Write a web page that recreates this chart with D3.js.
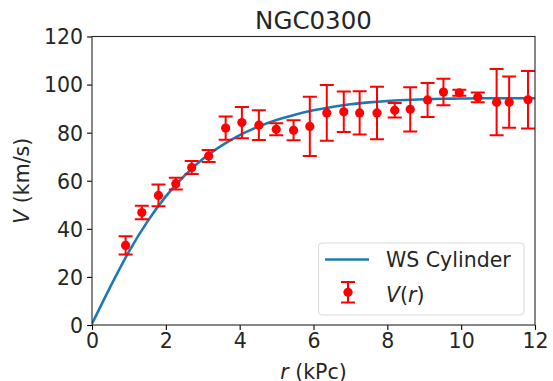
<!DOCTYPE html>
<html><head><meta charset="utf-8">
<script src="https://cdn.jsdelivr.net/npm/d3@7"></script>
<style>
html,body{margin:0;padding:0;background:#fff;}
text{font-family:"DejaVu Sans",sans-serif;}
</style></head>
<body>
<svg id="chart" width="553" height="381"></svg>
<script>
// Observed data
const radius = [0.91,1.35,1.80,2.27,2.70,3.16,3.62,4.06,4.52,4.99,5.46,5.90,6.36,6.82,7.25,7.72,8.20,8.62,9.09,9.52,9.95,10.45,10.96,11.30,11.81];
const velocity = [33.1,46.8,53.9,58.8,65.5,70.3,81.9,84.2,83.1,81.4,81.0,82.6,88.2,88.7,88.2,88.2,89.3,89.7,93.6,96.9,96.6,94.7,92.7,92.7,93.7];
const velErr = [3.8,2.8,4.5,2.4,2.7,2.5,4.8,6.5,6.2,2.5,4.2,12.3,11.6,8.4,9.0,10.9,3.0,9.2,7.1,5.5,1.2,2.0,13.8,10.7,12.0];
// Model curve (WS Cylinder)
const modelR = [0,0.5,1,1.5,2,2.5,3,3.5,4,4.5,5,5.5,6,6.5,7,7.5,8,8.5,9,9.5,10,10.5,11,11.5,12];
const modelV = [0.5,16,30.5,43,53.5,62,69,74.5,79,82.5,85.3,87.5,89.3,90.7,91.8,92.6,93.2,93.6,93.9,94.1,94.2,94.3,94.3,94.3,94.3];
const xTicks = [0,2,4,6,8,10,12];
const yTicks = [0,20,40,60,80,100,120];
const title = "NGC0300";

const svg = d3.select("#chart");
const m = {left:92, right:535, top:36.5, bottom:325};
const x = d3.scaleLinear().domain([0,12]).range([m.left,m.right]);
const y = d3.scaleLinear().domain([0,120]).range([m.bottom,m.top]);
const FS = 20.5;

svg.append("defs").append("clipPath").attr("id","clip")
  .append("rect").attr("x",m.left).attr("y",m.top).attr("width",m.right-m.left).attr("height",m.bottom-m.top);

const plot = svg.append("g").attr("clip-path","url(#clip)");

// model curve
const line = d3.line().x((d,i)=>x(modelR[i])).y(d=>y(d)).curve(d3.curveMonotoneX);
plot.append("path").datum(modelV).attr("d",line)
  .attr("fill","none").attr("stroke","#1f77b4").attr("stroke-width",2.6);

// error bars
const red = "#ff0000";
const cap = 7;
const eb = plot.selectAll("g.eb").data(radius).join("g").attr("class","eb");
eb.append("line").attr("x1",(d)=>x(d)).attr("x2",(d)=>x(d))
  .attr("y1",(d,i)=>y(velocity[i]-velErr[i])).attr("y2",(d,i)=>y(velocity[i]+velErr[i]))
  .attr("stroke",red).attr("stroke-width",2);
eb.append("line").attr("x1",(d)=>x(d)-cap).attr("x2",(d)=>x(d)+cap)
  .attr("y1",(d,i)=>y(velocity[i]-velErr[i])).attr("y2",(d,i)=>y(velocity[i]-velErr[i]))
  .attr("stroke",red).attr("stroke-width",2);
eb.append("line").attr("x1",(d)=>x(d)-cap).attr("x2",(d)=>x(d)+cap)
  .attr("y1",(d,i)=>y(velocity[i]+velErr[i])).attr("y2",(d,i)=>y(velocity[i]+velErr[i]))
  .attr("stroke",red).attr("stroke-width",2);
eb.append("circle").attr("cx",(d)=>x(d)).attr("cy",(d,i)=>y(velocity[i])).attr("r",4.6).attr("fill",red);

// axes
const xAxis = d3.axisBottom(x).tickValues(xTicks).tickSize(4.9).tickPadding(4).tickFormat(d3.format("d"));
const yAxis = d3.axisLeft(y).tickValues(yTicks).tickSize(4.9).tickPadding(4).tickFormat(d3.format("d"));
const gx = svg.append("g").attr("transform",`translate(0,${m.bottom})`).call(xAxis);
const gy = svg.append("g").attr("transform",`translate(${m.left},0)`).call(yAxis);
[gx,gy].forEach(g=>{
  g.select(".domain").remove();
  g.selectAll(".tick line").attr("stroke","#000").attr("stroke-width",1.1);
  g.selectAll(".tick text").attr("font-size",FS).attr("fill","#262626").attr("font-family","DejaVu Sans");
});
gy.selectAll(".tick text").attr("dy","0.36em");

// frame
svg.append("rect").attr("x",m.left).attr("y",m.top).attr("width",m.right-m.left).attr("height",m.bottom-m.top)
  .attr("fill","none").attr("stroke","#262626").attr("stroke-width",1.1);

// title
svg.append("text").attr("x",(m.left+m.right)/2).attr("y",28.5).attr("text-anchor","middle")
  .attr("font-size",24.5).attr("fill","#262626").text(title);

// axis labels
const xl = svg.append("text").attr("x",(m.left+m.right)/2).attr("y",378.5).attr("text-anchor","middle")
  .attr("font-size",FS).attr("fill","#262626");
xl.append("tspan").attr("font-style","italic").text("r");
xl.append("tspan").text(" (kPc)");
const yl = svg.append("text").attr("transform",`translate(29,${(m.top+m.bottom)/2}) rotate(-90)`).attr("text-anchor","middle")
  .attr("font-size",FS).attr("fill","#262626");
yl.append("tspan").attr("font-style","italic").text("V");
yl.append("tspan").text(" (km/s)");

// legend
const lg = svg.append("g");
lg.append("rect").attr("x",318.5).attr("y",243).attr("width",205.5).attr("height",72).attr("rx",3.5)
  .attr("fill","#fff").attr("fill-opacity",0.8).attr("stroke","#d9d9d9").attr("stroke-width",1);
lg.append("line").attr("x1",325).attr("x2",369).attr("y1",259.5).attr("y2",259.5).attr("stroke","#1f77b4").attr("stroke-width",2.6);
lg.append("text").attr("x",386).attr("y",267).attr("font-size",FS).attr("fill","#262626").text("WS Cylinder");
lg.append("line").attr("x1",348).attr("x2",348).attr("y1",282).attr("y2",302.5).attr("stroke",red).attr("stroke-width",2);
lg.append("line").attr("x1",341).attr("x2",355).attr("y1",282).attr("y2",282).attr("stroke",red).attr("stroke-width",2);
lg.append("line").attr("x1",341).attr("x2",355).attr("y1",302.5).attr("y2",302.5).attr("stroke",red).attr("stroke-width",2);
lg.append("circle").attr("cx",348).attr("cy",292.3).attr("r",4.6).attr("fill",red);
const vt = lg.append("text").attr("x",386).attr("y",301.5).attr("font-size",FS).attr("fill","#262626");
vt.append("tspan").attr("font-style","italic").text("V");
vt.append("tspan").text("(");
vt.append("tspan").attr("font-style","italic").text("r");
vt.append("tspan").text(")");
</script>
</body></html>
